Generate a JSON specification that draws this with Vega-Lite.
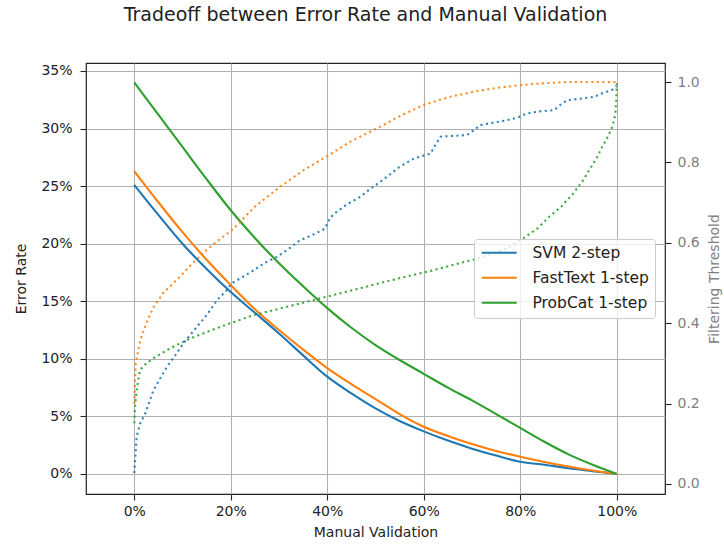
{
  "$schema": "https://vega.github.io/schema/vega-lite/v6.json",
  "autosize": {"type": "none"},
  "padding": {"left": 86, "top": 63, "right": 59, "bottom": 52},
  "width": 579,
  "height": 431,
  "background": "white",
  "title": {
    "text": "Tradeoff between Error Rate and Manual Validation",
    "anchor": "middle",
    "frame": "group",
    "dx": -10,
    "offset": 23,
    "baseline": "alphabetic",
    "fontSize": 19,
    "fontWeight": "normal",
    "font": "DejaVu Sans",
    "color": "#222222"
  },
  "config": {
    "font": "DejaVu Sans",
    "view": {"stroke": "#222222", "strokeWidth": 1.2},
    "axis": {
      "labelFont": "DejaVu Sans",
      "titleFont": "DejaVu Sans",
      "labelFontSize": 14,
      "titleFontSize": 14,
      "titleFontWeight": "normal",
      "labelColor": "#222222",
      "titleColor": "#222222",
      "tickColor": "#222222",
      "tickSize": 6,
      "tickWidth": 1.1,
      "domain": false,
      "gridColor": "#b0b0b0",
      "gridWidth": 1.1
    }
  },
  "datasets": {
    "err": [
      {"model": "SVM 2-step", "mv": 0, "err": 25.1},
      {"model": "SVM 2-step", "mv": 5, "err": 22.5},
      {"model": "SVM 2-step", "mv": 10, "err": 20.0},
      {"model": "SVM 2-step", "mv": 15, "err": 17.8},
      {"model": "SVM 2-step", "mv": 20, "err": 15.8},
      {"model": "SVM 2-step", "mv": 25, "err": 14.0},
      {"model": "SVM 2-step", "mv": 30, "err": 12.2},
      {"model": "SVM 2-step", "mv": 35, "err": 10.3},
      {"model": "SVM 2-step", "mv": 40, "err": 8.45},
      {"model": "SVM 2-step", "mv": 45, "err": 7.0},
      {"model": "SVM 2-step", "mv": 50, "err": 5.7},
      {"model": "SVM 2-step", "mv": 55, "err": 4.6},
      {"model": "SVM 2-step", "mv": 60, "err": 3.7},
      {"model": "SVM 2-step", "mv": 65, "err": 2.9},
      {"model": "SVM 2-step", "mv": 70, "err": 2.2},
      {"model": "SVM 2-step", "mv": 75, "err": 1.6},
      {"model": "SVM 2-step", "mv": 80, "err": 1.07},
      {"model": "SVM 2-step", "mv": 85, "err": 0.8},
      {"model": "SVM 2-step", "mv": 90, "err": 0.5},
      {"model": "SVM 2-step", "mv": 95, "err": 0.25},
      {"model": "SVM 2-step", "mv": 100, "err": 0},
      {"model": "FastText 1-step", "mv": 0, "err": 26.3},
      {"model": "FastText 1-step", "mv": 5, "err": 23.6},
      {"model": "FastText 1-step", "mv": 10, "err": 21.0},
      {"model": "FastText 1-step", "mv": 15, "err": 18.6},
      {"model": "FastText 1-step", "mv": 20, "err": 16.4},
      {"model": "FastText 1-step", "mv": 25, "err": 14.3},
      {"model": "FastText 1-step", "mv": 30, "err": 12.5},
      {"model": "FastText 1-step", "mv": 35, "err": 10.8},
      {"model": "FastText 1-step", "mv": 40, "err": 9.2},
      {"model": "FastText 1-step", "mv": 45, "err": 7.8},
      {"model": "FastText 1-step", "mv": 50, "err": 6.5},
      {"model": "FastText 1-step", "mv": 55, "err": 5.2},
      {"model": "FastText 1-step", "mv": 60, "err": 4.1},
      {"model": "FastText 1-step", "mv": 65, "err": 3.3},
      {"model": "FastText 1-step", "mv": 70, "err": 2.6},
      {"model": "FastText 1-step", "mv": 75, "err": 2.0},
      {"model": "FastText 1-step", "mv": 80, "err": 1.5},
      {"model": "FastText 1-step", "mv": 85, "err": 1.05},
      {"model": "FastText 1-step", "mv": 90, "err": 0.65},
      {"model": "FastText 1-step", "mv": 95, "err": 0.3},
      {"model": "FastText 1-step", "mv": 100, "err": 0},
      {"model": "ProbCat 1-step", "mv": 0, "err": 34.0},
      {"model": "ProbCat 1-step", "mv": 5, "err": 31.2},
      {"model": "ProbCat 1-step", "mv": 10, "err": 28.4},
      {"model": "ProbCat 1-step", "mv": 15, "err": 25.6},
      {"model": "ProbCat 1-step", "mv": 20, "err": 22.9},
      {"model": "ProbCat 1-step", "mv": 25, "err": 20.5},
      {"model": "ProbCat 1-step", "mv": 30, "err": 18.3},
      {"model": "ProbCat 1-step", "mv": 35, "err": 16.3},
      {"model": "ProbCat 1-step", "mv": 40, "err": 14.4},
      {"model": "ProbCat 1-step", "mv": 45, "err": 12.7},
      {"model": "ProbCat 1-step", "mv": 50, "err": 11.2},
      {"model": "ProbCat 1-step", "mv": 55, "err": 9.9},
      {"model": "ProbCat 1-step", "mv": 60, "err": 8.7},
      {"model": "ProbCat 1-step", "mv": 65, "err": 7.5},
      {"model": "ProbCat 1-step", "mv": 70, "err": 6.4},
      {"model": "ProbCat 1-step", "mv": 75, "err": 5.2},
      {"model": "ProbCat 1-step", "mv": 80, "err": 4.0},
      {"model": "ProbCat 1-step", "mv": 85, "err": 2.8},
      {"model": "ProbCat 1-step", "mv": 90, "err": 1.7},
      {"model": "ProbCat 1-step", "mv": 95, "err": 0.8},
      {"model": "ProbCat 1-step", "mv": 100, "err": 0}
    ],
    "thr": [
      {"model": "SVM 2-step", "mv": 0, "thr": 0.027},
      {"model": "SVM 2-step", "mv": 0.5, "thr": 0.118},
      {"model": "SVM 2-step", "mv": 1.2, "thr": 0.15},
      {"model": "SVM 2-step", "mv": 2.3, "thr": 0.176},
      {"model": "SVM 2-step", "mv": 4, "thr": 0.234},
      {"model": "SVM 2-step", "mv": 5.5, "thr": 0.265},
      {"model": "SVM 2-step", "mv": 6.8, "thr": 0.292},
      {"model": "SVM 2-step", "mv": 8.5, "thr": 0.32},
      {"model": "SVM 2-step", "mv": 10.2, "thr": 0.35},
      {"model": "SVM 2-step", "mv": 13, "thr": 0.391},
      {"model": "SVM 2-step", "mv": 15, "thr": 0.42},
      {"model": "SVM 2-step", "mv": 17.2, "thr": 0.458},
      {"model": "SVM 2-step", "mv": 19, "thr": 0.48},
      {"model": "SVM 2-step", "mv": 20.3, "thr": 0.5},
      {"model": "SVM 2-step", "mv": 22.5, "thr": 0.515},
      {"model": "SVM 2-step", "mv": 24.8, "thr": 0.532},
      {"model": "SVM 2-step", "mv": 27, "thr": 0.55},
      {"model": "SVM 2-step", "mv": 29.6, "thr": 0.565},
      {"model": "SVM 2-step", "mv": 32, "thr": 0.585},
      {"model": "SVM 2-step", "mv": 34.2, "thr": 0.605},
      {"model": "SVM 2-step", "mv": 37, "thr": 0.62},
      {"model": "SVM 2-step", "mv": 39.5, "thr": 0.635},
      {"model": "SVM 2-step", "mv": 40.5, "thr": 0.66},
      {"model": "SVM 2-step", "mv": 41.5, "thr": 0.673},
      {"model": "SVM 2-step", "mv": 44, "thr": 0.695},
      {"model": "SVM 2-step", "mv": 46.9, "thr": 0.715},
      {"model": "SVM 2-step", "mv": 49, "thr": 0.735},
      {"model": "SVM 2-step", "mv": 51, "thr": 0.752},
      {"model": "SVM 2-step", "mv": 53, "thr": 0.77},
      {"model": "SVM 2-step", "mv": 55, "thr": 0.789},
      {"model": "SVM 2-step", "mv": 58, "thr": 0.81},
      {"model": "SVM 2-step", "mv": 61.4, "thr": 0.822},
      {"model": "SVM 2-step", "mv": 62.5, "thr": 0.845},
      {"model": "SVM 2-step", "mv": 63.5, "thr": 0.864},
      {"model": "SVM 2-step", "mv": 66, "thr": 0.866},
      {"model": "SVM 2-step", "mv": 69, "thr": 0.868},
      {"model": "SVM 2-step", "mv": 71.8, "thr": 0.893},
      {"model": "SVM 2-step", "mv": 74, "thr": 0.898},
      {"model": "SVM 2-step", "mv": 77.3, "thr": 0.905},
      {"model": "SVM 2-step", "mv": 79.5, "thr": 0.912},
      {"model": "SVM 2-step", "mv": 81.5, "thr": 0.922},
      {"model": "SVM 2-step", "mv": 84, "thr": 0.927},
      {"model": "SVM 2-step", "mv": 87, "thr": 0.93},
      {"model": "SVM 2-step", "mv": 88.5, "thr": 0.945},
      {"model": "SVM 2-step", "mv": 89.8, "thr": 0.955},
      {"model": "SVM 2-step", "mv": 92, "thr": 0.958},
      {"model": "SVM 2-step", "mv": 95.3, "thr": 0.963},
      {"model": "SVM 2-step", "mv": 97, "thr": 0.972},
      {"model": "SVM 2-step", "mv": 99, "thr": 0.98},
      {"model": "SVM 2-step", "mv": 100, "thr": 0.99},
      {"model": "FastText 1-step", "mv": 0, "thr": 0.2},
      {"model": "FastText 1-step", "mv": 0.3, "thr": 0.3},
      {"model": "FastText 1-step", "mv": 1.25, "thr": 0.358},
      {"model": "FastText 1-step", "mv": 2.5, "thr": 0.4},
      {"model": "FastText 1-step", "mv": 4, "thr": 0.44},
      {"model": "FastText 1-step", "mv": 6, "thr": 0.475},
      {"model": "FastText 1-step", "mv": 9.5, "thr": 0.516},
      {"model": "FastText 1-step", "mv": 12, "thr": 0.548},
      {"model": "FastText 1-step", "mv": 15, "thr": 0.582},
      {"model": "FastText 1-step", "mv": 17.5, "thr": 0.607},
      {"model": "FastText 1-step", "mv": 20.3, "thr": 0.632},
      {"model": "FastText 1-step", "mv": 25, "thr": 0.69},
      {"model": "FastText 1-step", "mv": 30.3, "thr": 0.74},
      {"model": "FastText 1-step", "mv": 35, "thr": 0.78},
      {"model": "FastText 1-step", "mv": 40.3, "thr": 0.818},
      {"model": "FastText 1-step", "mv": 45, "thr": 0.853},
      {"model": "FastText 1-step", "mv": 51, "thr": 0.889},
      {"model": "FastText 1-step", "mv": 55, "thr": 0.915},
      {"model": "FastText 1-step", "mv": 60, "thr": 0.943},
      {"model": "FastText 1-step", "mv": 65, "thr": 0.962},
      {"model": "FastText 1-step", "mv": 70.4, "thr": 0.976},
      {"model": "FastText 1-step", "mv": 75, "thr": 0.985},
      {"model": "FastText 1-step", "mv": 80, "thr": 0.9925},
      {"model": "FastText 1-step", "mv": 85, "thr": 0.997},
      {"model": "FastText 1-step", "mv": 90, "thr": 1.0},
      {"model": "FastText 1-step", "mv": 100, "thr": 1.0},
      {"model": "ProbCat 1-step", "mv": 0, "thr": 0.151},
      {"model": "ProbCat 1-step", "mv": 0.2, "thr": 0.2},
      {"model": "ProbCat 1-step", "mv": 0.6, "thr": 0.242},
      {"model": "ProbCat 1-step", "mv": 1.2, "thr": 0.284},
      {"model": "ProbCat 1-step", "mv": 2.5, "thr": 0.3},
      {"model": "ProbCat 1-step", "mv": 4, "thr": 0.313},
      {"model": "ProbCat 1-step", "mv": 7.5, "thr": 0.338},
      {"model": "ProbCat 1-step", "mv": 11.6, "thr": 0.362},
      {"model": "ProbCat 1-step", "mv": 17.8, "thr": 0.391},
      {"model": "ProbCat 1-step", "mv": 24.7, "thr": 0.42},
      {"model": "ProbCat 1-step", "mv": 31.7, "thr": 0.441},
      {"model": "ProbCat 1-step", "mv": 38.6, "thr": 0.462},
      {"model": "ProbCat 1-step", "mv": 45.5, "thr": 0.483},
      {"model": "ProbCat 1-step", "mv": 51, "thr": 0.5},
      {"model": "ProbCat 1-step", "mv": 56, "thr": 0.515},
      {"model": "ProbCat 1-step", "mv": 62, "thr": 0.532},
      {"model": "ProbCat 1-step", "mv": 67, "thr": 0.548},
      {"model": "ProbCat 1-step", "mv": 72.4, "thr": 0.565},
      {"model": "ProbCat 1-step", "mv": 77, "thr": 0.585},
      {"model": "ProbCat 1-step", "mv": 80.6, "thr": 0.611},
      {"model": "ProbCat 1-step", "mv": 83.5, "thr": 0.635},
      {"model": "ProbCat 1-step", "mv": 86, "thr": 0.665},
      {"model": "ProbCat 1-step", "mv": 88.5, "thr": 0.69},
      {"model": "ProbCat 1-step", "mv": 91, "thr": 0.723},
      {"model": "ProbCat 1-step", "mv": 93, "thr": 0.755},
      {"model": "ProbCat 1-step", "mv": 94.3, "thr": 0.781},
      {"model": "ProbCat 1-step", "mv": 95.8, "thr": 0.81},
      {"model": "ProbCat 1-step", "mv": 97, "thr": 0.839},
      {"model": "ProbCat 1-step", "mv": 98.2, "thr": 0.865},
      {"model": "ProbCat 1-step", "mv": 99.1, "thr": 0.889},
      {"model": "ProbCat 1-step", "mv": 99.7, "thr": 0.92},
      {"model": "ProbCat 1-step", "mv": 99.9, "thr": 0.955},
      {"model": "ProbCat 1-step", "mv": 100, "thr": 1.0}
    ]
  },
  "layer": [
    {
      "data": {"name": "err"},
      "mark": {"type": "line", "strokeWidth": 2.1, "interpolate": "monotone", "clip": true},
      "encoding": {
        "x": {
          "field": "mv", "type": "quantitative",
          "scale": {"domain": [-10, 110], "nice": false, "zero": false},
          "axis": {
            "title": "Manual Validation",
            "values": [0, 20, 40, 60, 80, 100],
            "labelExpr": "datum.value + '%'",
            "grid": true,
            "labelPadding": 4,
            "titlePadding": 7
          }
        },
        "y": {
          "field": "err", "type": "quantitative",
          "scale": {"domain": [-1.737, 35.69], "nice": false, "zero": false},
          "axis": {
            "title": "Error Rate",
            "values": [0, 5, 10, 15, 20, 25, 30, 35],
            "labelExpr": "datum.value + '%'",
            "grid": true,
            "labelPadding": 8,
            "titlePadding": 12
          }
        },
        "color": {
          "field": "model", "type": "nominal",
          "scale": {
            "domain": ["SVM 2-step", "FastText 1-step", "ProbCat 1-step"],
            "range": ["#1f77b4", "#ff7f0e", "#2ca02c"]
          },
          "legend": {
            "title": null,
            "orient": "none",
            "legendX": 388,
            "legendY": 176,
            "direction": "vertical",
            "symbolType": "M-1,0H4.83",
            "symbolSize": 144,
            "symbolStrokeWidth": 2.1,
            "labelOffset": 37,
            "labelFontSize": 15.5,
            "labelFont": "DejaVu Sans",
            "labelColor": "#222222",
            "rowPadding": 8,
            "padding": 6,
            "fillColor": "rgba(255,255,255,0.8)",
            "strokeColor": "#cccccc",
            "cornerRadius": 3
          }
        }
      }
    },
    {
      "data": {"name": "thr"},
      "mark": {"type": "line", "strokeWidth": 2.1, "strokeDash": [2.1, 3.4], "opacity": 0.9, "clip": true},
      "encoding": {
        "x": {"field": "mv", "type": "quantitative"},
        "y": {
          "field": "thr", "type": "quantitative",
          "scale": {"domain": [-0.0249, 1.0473], "nice": false, "zero": false},
          "axis": {
            "orient": "right",
            "title": "Filtering Threshold",
            "values": [0, 0.2, 0.4, 0.6, 0.8, 1.0],
            "format": ".1f",
            "grid": false,
            "labelColor": "#808080",
            "titleColor": "#808080",
            "labelPadding": 6,
            "titlePadding": 22,
            "titleAngle": 270
          }
        },
        "color": {"field": "model", "type": "nominal", "legend": null}
      }
    }
  ],
  "resolve": {"scale": {"y": "independent"}}
}
